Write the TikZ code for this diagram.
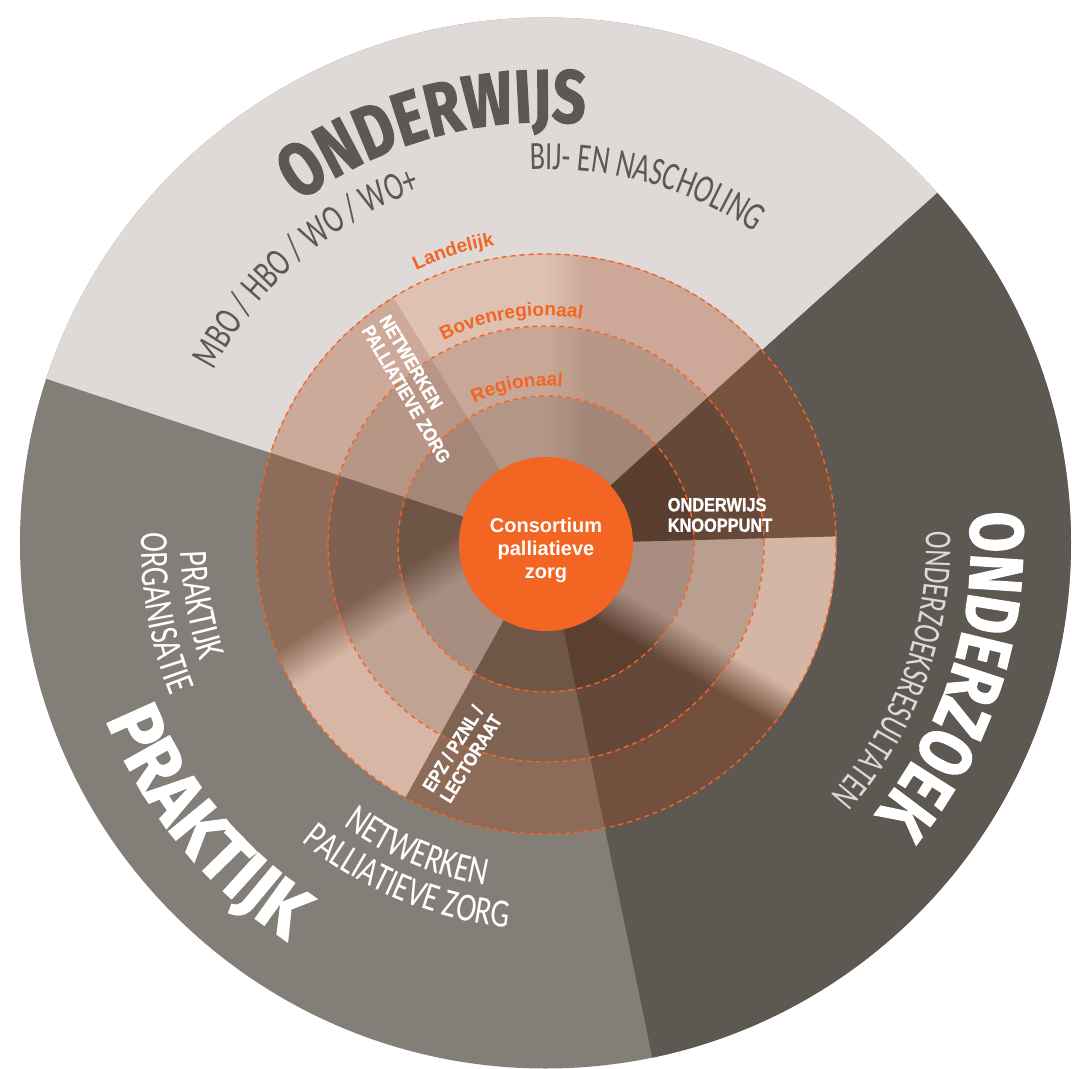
\documentclass[tikz,border=0pt]{standalone}
\usepackage{fontspec}
\usetikzlibrary{decorations.text}
\setmainfont{Liberation Sans}
\newfontfamily\labfont{Liberation Sans}[FakeStretch=0.86,FakeBold=1.2]
\newfontfamily\thinfont{Carlito}[FakeStretch=0.70]
\newfontfamily\thinfontw{Carlito}[FakeStretch=0.75]
\newfontfamily\heavyfont{Fira Sans}[FakeStretch=0.78,FakeBold=1.5]
\newfontfamily\heavyfontw{Fira Sans}[FakeStretch=0.92,FakeBold=1.5]

\definecolor{gLight}{HTML}{DFDAD7}
\definecolor{gMid}{HTML}{837E78}
\definecolor{gDark}{HTML}{5D5852}
\definecolor{orng}{HTML}{F26522}
\definecolor{txtLight}{HTML}{DDD9D5}
% S1 top (light = left, dark = right)
\definecolor{Alo}{HTML}{DFC1B1}\definecolor{Alm}{HTML}{C8A797}\definecolor{Ali}{HTML}{B39688}
\definecolor{Ado}{HTML}{CDA898}\definecolor{Adm}{HTML}{B99787}\definecolor{Adi}{HTML}{A48678}
% S2 strip
\definecolor{Bo}{HTML}{CDA999}\definecolor{Bm}{HTML}{B89686}\definecolor{Bi}{HTML}{A58677}
% S3 praktijk side
\definecolor{Cdo}{HTML}{8E6C5A}\definecolor{Cdm}{HTML}{7E6151}\definecolor{Cdi}{HTML}{6E5546}
\definecolor{Clo}{HTML}{D7B6A6}\definecolor{Clm}{HTML}{C0A393}\definecolor{Cli}{HTML}{A88E80}
% S4 EPZ
\definecolor{Do}{HTML}{8D6B59}\definecolor{Dm}{HTML}{7E6252}\definecolor{Di}{HTML}{705646}
% S5 onderzoek side
\definecolor{Edo}{HTML}{73503D}\definecolor{Edm}{HTML}{654839}\definecolor{Edi}{HTML}{5B4032}
\definecolor{Elo}{HTML}{D5B5A5}\definecolor{Elm}{HTML}{BA9E8F}\definecolor{Eli}{HTML}{A88D80}
% S6 knooppunt
\definecolor{Fo}{HTML}{76523F}\definecolor{Fm}{HTML}{664838}\definecolor{Fi}{HTML}{5A3F31}

\newcommand\mkshade[3]{\pgfdeclareverticalshading{#1}{100bp}{color(0bp)=(#2); color(48.5bp)=(#2); color(51.5bp)=(#3); color(100bp)=(#3)}}
\mkshade{shAo}{Ado}{Alo}\mkshade{shAm}{Adm}{Alm}\mkshade{shAi}{Adi}{Ali}
\mkshade{shCo}{Cdo}{Clo}\mkshade{shCm}{Cdm}{Clm}\mkshade{shCi}{Cdi}{Cli}
\mkshade{shEo}{Edo}{Elo}\mkshade{shEm}{Edm}{Elm}\mkshade{shEi}{Edi}{Eli}

\newcommand\fillseg[5]{\fill[#5] (#1:#3) arc[start angle=#1,end angle=#2,radius=#3] -- (#2:#4) arc[start angle=#2,end angle=#1,radius=#4] -- cycle;}
\newcommand\gradseg[7]{\begin{scope}
  \clip (#1:#3) arc[start angle=#1,end angle=#2,radius=#3] -- (#2:#4) arc[start angle=#2,end angle=#1,radius=#4] -- cycle;
  \pgfmathsetmacro\gsang{#6-90}
  \shade[shading=#5,shading angle=\gsang,shift={(#6:#7)}] (-330,-330) rectangle (330,330);
  \end{scope}}

\tikzset{
  lab/.style={font=\labfont\bfseries\fontsize{19}{20.5}\selectfont, text=white, align=left, inner sep=0pt},
  ring/.style={draw=orng, line width=1.4pt, dash pattern=on 5pt off 4pt},
  arctxt/.style={decorate, decoration={text along path, text align=center, text={#1}}}
}

\begin{document}
\begin{tikzpicture}[x=1pt,y=1pt]
\useasboundingbox (-546,-525) rectangle (526,544);
% outer sectors
\begin{scope}
  \clip (-0.5,1) circle (525.5);
  \fill[gMid] (-0.5,1) circle (530);
  \fill[gLight] (0,0) -- (41.9:800) arc[start angle=41.9,end angle=161.7,radius=800] -- cycle;
  \fill[gDark] (0,0) -- (281.7:800) arc[start angle=281.7,end angle=401.9,radius=800] -- cycle;
\end{scope}

% inner ring: S1 top
\gradseg{41.9}{122.2}{80}{148.5}{shAi}{180}{-20}
\gradseg{41.9}{122.2}{147.5}{218.5}{shAm}{180}{-20}
\gradseg{41.9}{122.2}{217.5}{290.4}{shAo}{180}{-20}
% S2 strip
\fillseg{121.8}{162.0}{80}{148.5}{Bi}
\fillseg{121.8}{162.0}{147.5}{218.5}{Bm}
\fillseg{121.8}{162.0}{217.5}{290.4}{Bo}
% S3 praktijk side
\gradseg{161.7}{241.4}{80}{148.5}{shCi}{-57.4}{-36}
\gradseg{161.7}{241.4}{147.5}{218.5}{shCm}{-57.4}{-36}
\gradseg{161.7}{241.4}{217.5}{290.4}{shCo}{-57.4}{-36}
% S4 EPZ
\fillseg{241.0}{282.0}{80}{148.5}{Di}
\fillseg{241.0}{282.0}{147.5}{218.5}{Dm}
\fillseg{241.0}{282.0}{217.5}{290.4}{Do}
% S5 onderzoek side
\gradseg{281.7}{361.9}{80}{148.5}{shEi}{60}{-22}
\gradseg{281.7}{361.9}{147.5}{218.5}{shEm}{60}{-22}
\gradseg{281.7}{361.9}{217.5}{290.4}{shEo}{60}{-22}
% S6 knooppunt
\fillseg{1.5}{42.2}{80}{148.5}{Fi}
\fillseg{1.5}{42.2}{147.5}{218.5}{Fm}
\fillseg{1.5}{42.2}{217.5}{290.4}{Fo}

% dashed level circles
\draw[ring] (0,0) circle (148);
\draw[ring] (0,0) circle (218);
\draw[ring] (0,0) circle (290);

% centre
\node[circle, fill=orng, minimum size=174pt, inner sep=0pt] (cons) at (0,0) {};
\node[font=\bfseries\fontsize{20}{23}\selectfont, text=white, align=center, inner sep=0pt] (constxt) at (0,-6) {Consortium\\palliatieve\\zorg};

% straight labels
\node[lab, rotate=-59.5] (netwstrip) at (-131,155) {NETWERKEN\\PALLIATIEVE ZORG};
\node[lab] (knoop) at (174,29) {ONDERWIJS\\KNOOPPUNT};
\node[lab, rotate=58] (epz) at (-84,-209) {EPZ / PZNL /\\LECTORAAT};

% level labels
\path[arctxt={|\bfseries\fontsize{19}{19}\selectfont\color{orng}|Landelijk}] (147.6:303) arc[start angle=147.6,end angle=67.6,radius=303];
\path[arctxt={|\bfseries\fontsize{19}{19}\selectfont\color{orng}|Bovenregionaal}] (148.8:228) arc[start angle=148.8,end angle=48.8,radius=228];
\path[arctxt={|\bfseries\fontsize{19}{19}\selectfont\color{orng}|Regionaal}] (150.5:158) arc[start angle=150.5,end angle=50.5,radius=158];

% big titles
\path[arctxt={|\heavyfont\bfseries\fontsize{75}{75}\selectfont\color{gDark}|ONDERWIJS}] (160.3:422) arc[start angle=160.3,end angle=50.3,radius=422];
\path[arctxt={|\heavyfont\bfseries\fontsize{75}{75}\selectfont\color{white}|ONDERZOEK}] (37.4:425) arc[start angle=37.4,end angle=-72.6,radius=425];
\path[arctxt={|\heavyfontw\bfseries\fontsize{75}{75}\selectfont\color{white}|PRAKTIJK}] (164.3:474) arc[start angle=164.3,end angle=274.3,radius=474];

% thin sub texts
\path[arctxt={|\thinfont\fontsize{40}{40}\selectfont\color{gDark}|BIJ- EN NASCHOLING}] (124.3:375) arc[start angle=124.3,end angle=24.3,radius=375];
\path[arctxt={|\thinfont\fontsize{40}{40}\selectfont\color{gDark}|MBO / HBO / WO / WO+}] (181:375) arc[start angle=181,end angle=81,radius=375];
\path[arctxt={|\thinfont\fontsize{38}{38}\selectfont\color{txtLight}|ONDERZOEKSRESULTATEN}] (35.2:380) arc[start angle=35.2,end angle=-74.8,radius=380];
\path[arctxt={|\thinfontw\fontsize{40}{40}\selectfont\color{white}|PRAKTIJK}] (150:365) arc[start angle=150,end angle=230,radius=365];
\path[arctxt={|\thinfontw\fontsize{40}{40}\selectfont\color{white}|ORGANISATIE}] (150.2:405) arc[start angle=150.2,end angle=230.2,radius=405];
\path[arctxt={|\thinfontw\fontsize{40}{40}\selectfont\color{white}|NETWERKEN}] (207.1:347) arc[start angle=207.1,end angle=287.1,radius=347];
\path[arctxt={|\thinfontw\fontsize{40}{40}\selectfont\color{white}|PALLIATIEVE ZORG}] (202.5:385) arc[start angle=202.5,end angle=292.5,radius=385];
\end{tikzpicture}
\end{document}
